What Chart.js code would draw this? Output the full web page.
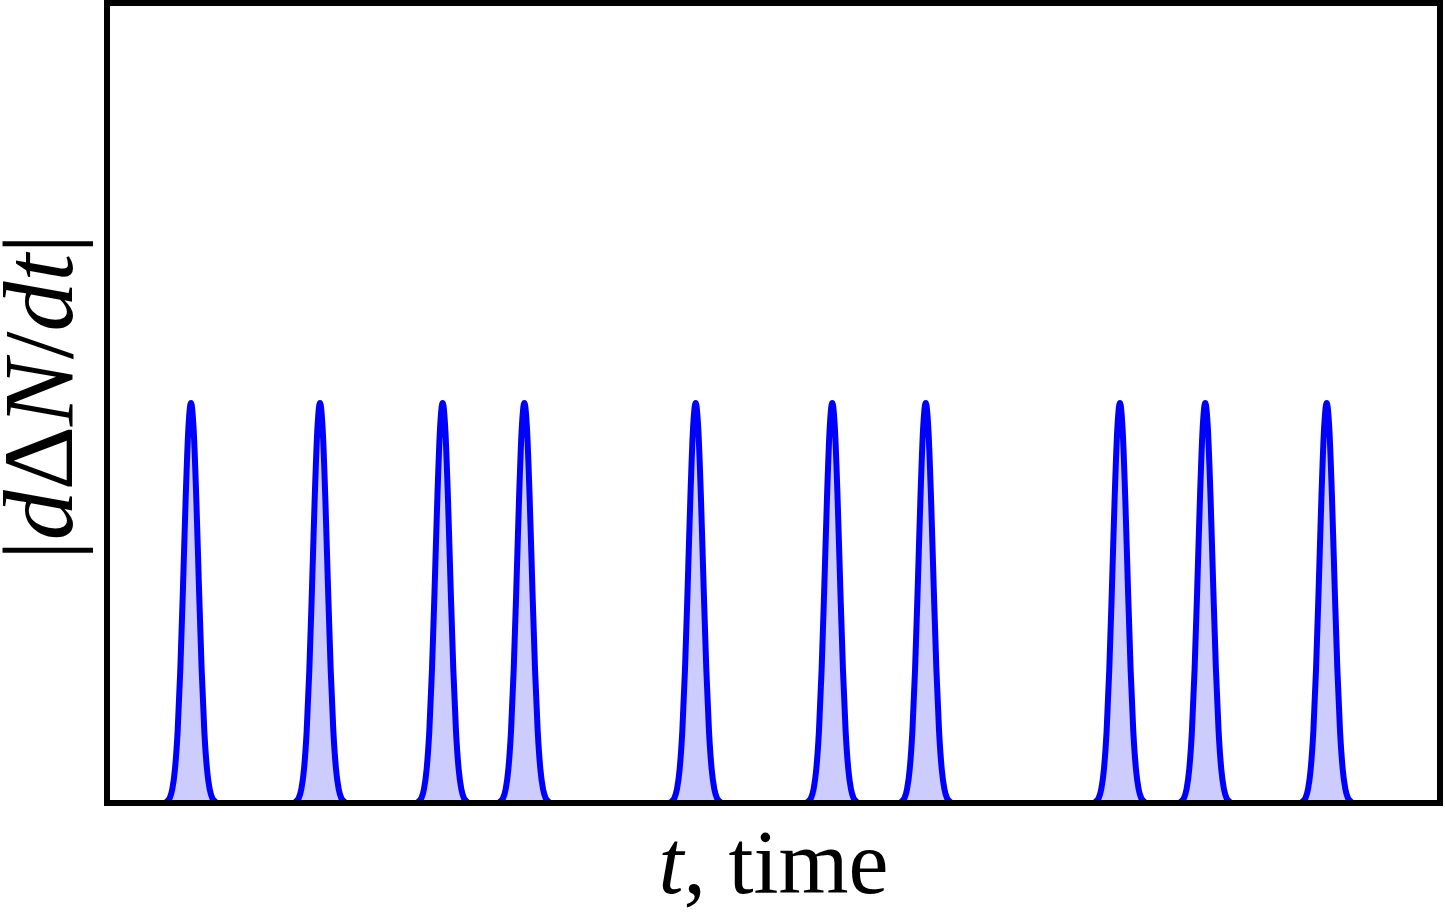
<!DOCTYPE html>
<html>
<head>
<meta charset="utf-8">
<script src="https://cdn.jsdelivr.net/npm/chart.js@4/dist/chart.umd.min.js"></script>
<style>
  html, body { margin: 0; padding: 0; background: #fff; }
  #wrap { width: 1445px; height: 916px; }
</style>
</head>
<body>
<div id="wrap"><canvas id="chart"></canvas></div>
<script>
// times of the pulses (t from 0 to 100 across the frame)
const peakTimes = [6.3, 15.98, 25.18, 31.31, 44.16, 54.41, 61.42, 75.99, 82.39, 91.5];
const peakHeights = [0.5, 0.5, 0.5, 0.5, 0.5, 0.5, 0.5, 0.5, 0.5, 0.5];
// one pulse: offset from centre -> fraction of peak height
const pulseOffsets = [-2.0, -1.8, -1.6, -1.4, -1.2, -1.0, -0.8, -0.6, -0.4, -0.2, 0,
                      0.2, 0.4, 0.6, 0.8, 1.0, 1.2, 1.4, 1.6, 1.8, 2.0];
const pulseShape = [0, 0.004, 0.012, 0.035, 0.085, 0.18, 0.334, 0.539, 0.76, 0.934, 1,
                    0.934, 0.76, 0.539, 0.334, 0.18, 0.085, 0.035, 0.012, 0.004, 0];
const tRange = [0, 100];
const yRange = [0, 1];

const xTitle = [["t", true], [", time", false]];
const yTitle = [["|", false], ["d", true], ["Δ", false], ["N", true], ["/", false], ["dt", true], ["|", false]];

const FONT = '"Liberation Serif", "DejaVu Serif", serif';

const points = [{ x: tRange[0], y: 0 }];
peakTimes.forEach((t0, i) => {
  pulseOffsets.forEach((d, j) => {
    points.push({ x: t0 + d, y: peakHeights[i] * pulseShape[j] });
  });
});
points.push({ x: tRange[1], y: 0 });

function drawSegments(ctx, segs, size, x, y) {
  // measure first so the whole label can be centred
  let total = 0;
  const widths = segs.map(([txt, it]) => {
    ctx.font = (it ? "italic " : "") + size + "px " + FONT;
    const w = ctx.measureText(txt).width;
    total += w;
    return w;
  });
  let cx = x - total / 2;
  segs.forEach(([txt, it], i) => {
    ctx.font = (it ? "italic " : "") + size + "px " + FONT;
    ctx.fillText(txt, cx, y);
    cx += widths[i];
  });
}

const frameAndTitles = {
  id: "frameAndTitles",
  afterDatasetsDraw(chart) {
    const { ctx, chartArea: a } = chart;
    ctx.save();
    ctx.strokeStyle = "#000";
    ctx.lineWidth = 6;
    ctx.strokeRect(a.left, a.top, a.right - a.left, a.bottom - a.top);

    ctx.fillStyle = "#000";
    ctx.textBaseline = "alphabetic";
    ctx.textAlign = "left";
    drawSegments(ctx, xTitle, 90, (a.left + a.right) / 2, 893);

    ctx.translate(72, 397);
    ctx.rotate(-Math.PI / 2);
    drawSegments(ctx, yTitle, 100, 0, 0);
    ctx.restore();
  }
};

new Chart(document.getElementById("chart"), {
  type: "line",
  data: {
    datasets: [{
      data: points,
      borderColor: "#0000ff",
      borderWidth: 6,
      backgroundColor: "rgba(0, 0, 255, 0.2)",
      fill: "origin",
      pointRadius: 0,
      cubicInterpolationMode: "monotone",
      borderJoinStyle: "round",
      borderCapStyle: "round"
    }]
  },
  options: {
    responsive: true,
    maintainAspectRatio: false,
    animation: false,
    devicePixelRatio: 1,
    layout: { padding: { left: 107, right: 5, top: 3, bottom: 113 } },
    plugins: { legend: { display: false }, tooltip: { enabled: false } },
    scales: {
      x: { type: "linear", min: tRange[0], max: tRange[1], display: false },
      y: { min: yRange[0], max: yRange[1], display: false }
    }
  },
  plugins: [frameAndTitles]
});
</script>
</body>
</html>
